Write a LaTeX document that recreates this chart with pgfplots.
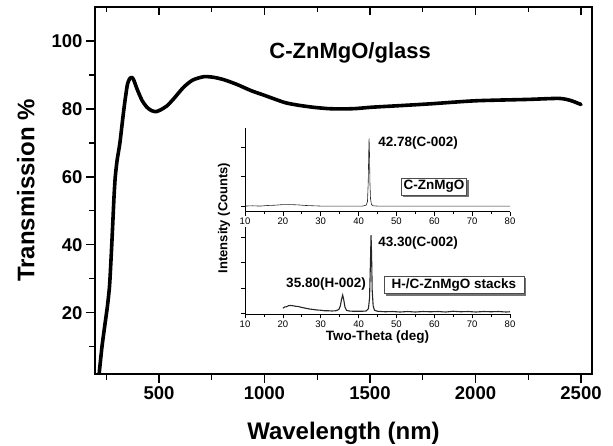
\documentclass[border=0pt]{standalone}
\usepackage{pgfplots}
\pgfplotsset{compat=1.18}
\usepackage{fontspec}
\setmainfont{Liberation Sans}
\usetikzlibrary{shadows}
\begin{document}
\begin{tikzpicture}
\path[use as bounding box] (-95pt,-72pt) rectangle (518pt,374pt);
% main axis
\begin{axis}[
  name=main,
  at={(0pt,0pt)}, anchor=south west,
  scale only axis, width=497pt, height=367pt,
  xmin=197, xmax=2552, ymin=2, ymax=110,
  xtick={500,1000,1500,2000,2500},
  minor xtick={250,750,1250,1750,2250},
  ytick={20,40,60,80,100},
  minor ytick={10,30,50,70,90},
  xtick pos=bottom, ytick pos=left,
  tick align=outside,
  major tick length=9pt, minor tick length=6pt,
  axis line style={line width=1.2pt},
  every tick/.style={line width=1.2pt, black},
  /pgf/number format/assume math mode=true,
  /pgf/number format/1000 sep={},
  tick label style={font=\bfseries\fontsize{18.5}{20}\selectfont},
  xlabel={Wavelength (nm)},
  ylabel={Transmission \%},
  label style={font=\bfseries\fontsize{24}{26}\selectfont},
  xlabel style={at={(axis description cs:0.5,-0.161)}, anchor=center},
  ylabel style={at={(axis description cs:-0.139,0.5)}, anchor=center, rotate=0},
  clip=true,
]
\addplot[line width=3.6pt, black, line join=round, line cap=round, smooth, tension=0.4] coordinates {
(217,2.3) (230,10) (245,17) (256,22) (266,28) (274,37) (281,46) (287,54) (293,60)
(302,65) (315,70)
(334,80) (350,87) (362,89) (371,89.3) (380,88.6) (398,85.6) (420,82.5) (443,80.5)
(465,79.5) (487,79.2) (510,79.8) (538,80.9) (570,83) (617,86.4) (660,88.5)
(713,89.5) (760,89.3) (808,88.6) (870,87.2) (936,85.4) (1000,84) (1095,81.9)
(1160,81.1) (1230,80.5) (1300,80.1) (1360,80) (1430,80.1) (1507,80.5) (1650,81)
(1785,81.5) (2000,82.4) (2247,82.8) (2395,83.1) (2450,82.5) (2500,81.3)
};
\node[font=\bfseries\fontsize{22}{24}\selectfont] at (axis cs:1406,96.6) {C-ZnMgO/glass};
\end{axis}
% top ticks inward
\begin{axis}[
  at={(0pt,0pt)}, anchor=south west,
  scale only axis, width=497pt, height=367pt,
  xmin=197, xmax=2552, ymin=2, ymax=110,
  axis x line*=top, axis y line=none,
  xtick={500,1000,1500,2000,2500},
  minor xtick={250,750,1250,1750,2250},
  xticklabels={},
  tick align=inside,
  major tick length=8pt, minor tick length=5pt,
  axis line style={line width=1.2pt},
  every tick/.style={line width=1.2pt, black},
]
\addplot[draw=none] coordinates {(500,50)};
\end{axis}
% upper inset
\begin{axis}[
  at={(150pt,162.3pt)}, anchor=south west,
  scale only axis, width=265pt, height=83.7pt,
  xmin=10, xmax=80, ymin=-0.19, ymax=2.64,
  axis x line*=bottom, axis y line*=left,
  axis line style={-, line width=0.7pt},
  xtick={10,20,...,80}, minor xtick={15,25,...,75},
  ytick={0,1,2}, yticklabels={},
  tick align=outside,
  major tick length=4pt, minor tick length=2.5pt,
  every tick/.style={line width=0.7pt, black},
  /pgf/number format/assume math mode=true,
  tick label style={font=\fontsize{9.5}{10}\selectfont},
  xticklabel style={yshift=1pt},
  clip=false,
]
\addplot[line width=0.6pt, black!85] coordinates {
(10,0.0) (12,0.01) (14,0.0) (16,0.02) (18,0.03) (20,0.05) (22,0.05) (24,0.04)
(26,0.02) (28,0.01) (30,0.0) (34,0.0) (38,0.0) (41,0.0) (42,0.03) (42.35,0.15)
(42.55,0.8) (42.7,1.9) (42.78,2.29) (42.88,1.8) (43.0,0.8) (43.15,0.25)
(43.4,0.06) (43.8,0.01) (45,0.0) (50,0.0) (55,0.0) (60,0.0) (65,0.0) (70,0.0)
(75,0.0) (80,0.0)
};
\node[font=\bfseries\fontsize{13.5}{15}\selectfont, anchor=west] at (axis cs:44.3,2.12) {42.78(C-002)};
\node[font=\bfseries\fontsize{13.5}{15}\selectfont, draw=black!70, line width=0.6pt, fill=white,
  inner sep=2.5pt, drop shadow={shadow xshift=2pt, shadow yshift=-2pt, fill=black!55, opacity=1}]
  at (axis cs:59.9,0.66) {C-ZnMgO};
\end{axis}
% lower inset
\begin{axis}[
  at={(150pt,59.7pt)}, anchor=south west,
  scale only axis, width=265pt, height=87.6pt,
  xmin=10, xmax=80, ymin=-0.04, ymax=3.42,
  axis x line*=bottom, axis y line*=left,
  axis line style={-, line width=0.7pt},
  xtick={10,20,...,80}, minor xtick={15,25,...,75},
  ytick={0,1,2,3}, yticklabels={},
  tick align=outside,
  major tick length=4pt, minor tick length=2.5pt,
  every tick/.style={line width=0.7pt, black},
  /pgf/number format/assume math mode=true,
  tick label style={font=\fontsize{9.5}{10}\selectfont},
  xticklabel style={yshift=1pt},
  clip=false,
]
\addplot[line width=1.1pt, black!85] coordinates {
(20,0.2) (20.5,0.25) (21,0.26) (21.5,0.3) (22,0.31) (22.5,0.3) (23,0.29) (23.5,0.27)
(24,0.27) (25,0.23) (26,0.2) (27,0.17) (28,0.15) (29,0.13) (30,0.12) (31,0.1)
(32,0.1) (33,0.09) (34,0.1) (34.8,0.15) (35.2,0.3) (35.5,0.55) (35.8,0.72)
(36.1,0.52) (36.4,0.25) (36.8,0.12) (37.5,0.09) (38.5,0.08) (40,0.08) (41,0.08)
(42,0.09) (42.6,0.18) (42.9,0.6) (43.1,1.8) (43.3,3.09) (43.45,2.2) (43.6,0.9)
(43.85,0.3) (44.2,0.12) (45,0.08) (47,0.06) (49,0.07) (51,0.05) (53,0.07)
(55,0.05) (57,0.07) (59,0.06) (61,0.07) (63,0.05) (65,0.08) (67,0.06) (69,0.07)
(71,0.05) (73,0.07) (75,0.06) (77,0.07) (79,0.05) (80,0.06)
};
\node[font=\bfseries\fontsize{13.5}{15}\selectfont, anchor=west] at (axis cs:44.3,2.78) {43.30(C-002)};
\node[font=\bfseries\fontsize{13.5}{15}\selectfont] at (axis cs:31.4,1.15) {35.80(H-002)};
\node[font=\bfseries\fontsize{13.5}{15}\selectfont, draw=black!70, line width=0.6pt, fill=white,
  inner sep=2.5pt, minimum width=140pt, drop shadow={shadow xshift=2pt, shadow yshift=-2pt, fill=black!55, opacity=1}]
  at (axis cs:65.2,1.12) {H-/C-ZnMgO stacks};
\node[font=\bfseries\fontsize{13.5}{15}\selectfont] at (axis cs:45,-0.92) {Two-Theta (deg)};
\end{axis}
\node[font=\bfseries\fontsize{13}{15}\selectfont, rotate=90] at (129pt,156pt) {Intensity (Counts)};
\end{tikzpicture}
\end{document}
